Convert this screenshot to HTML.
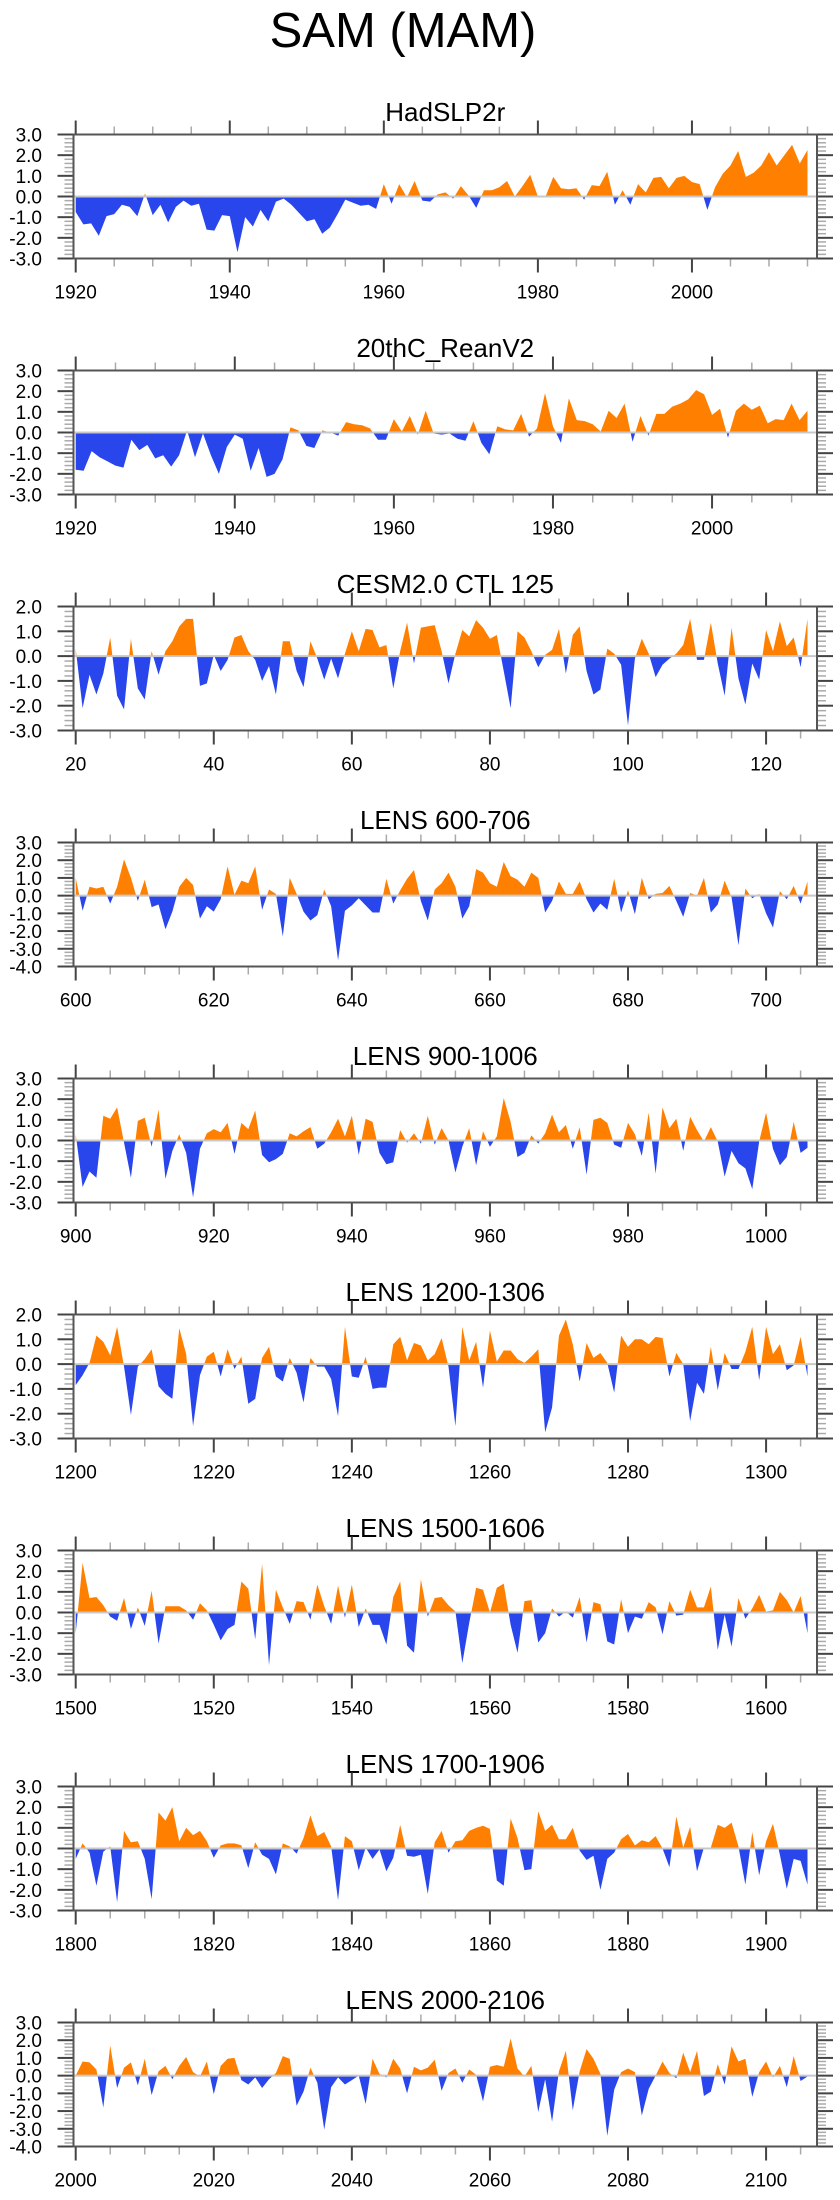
<!DOCTYPE html>
<html>
<head>
<meta charset="utf-8">
<style>
  html,body{margin:0;padding:0;background:#fff;}
  body{width:840px;height:2200px;overflow:hidden;}
  svg{display:block;font-family:"Liberation Sans",Arial,sans-serif;}
</style>
</head>
<body>
<svg id="chart" width="840" height="2200" viewBox="0 0 840 2200" xmlns="http://www.w3.org/2000/svg">
  <text x="403" y="47" font-size="49" text-anchor="middle" fill="#000">SAM (MAM)</text>
</svg>
<script>
// ---- data ----
const titles = ["HadSLP2r","20thC_ReanV2","CESM2.0 CTL 125","LENS 600-706","LENS 900-1006","LENS 1200-1306","LENS 1500-1606","LENS 1700-1906","LENS 2000-2106"];
const startYears = [1920,1920,20,600,900,1200,1500,1800,2000];
const yMins = [-3,-3,-3,-4,-3,-3,-3,-3,-4];
const yMaxs = [3,3,2,3,3,2,3,3,3];
const xLabelStarts = [1920,1920,20,600,900,1200,1500,1800,2000];

const hadslp = [-0.75,-1.35,-1.3,-1.9,-0.95,-0.85,-0.4,-0.5,-0.95,0.15,-0.9,-0.4,-1.25,-0.5,-0.2,-0.45,-0.35,-1.6,-1.65,-0.9,-0.95,-2.7,-1.0,-1.45,-0.65,-1.2,-0.25,-0.1,-0.4,-0.8,-1.2,-1.1,-1.8,-1.5,-0.85,-0.15,-0.3,-0.45,-0.4,-0.6,0.6,-0.35,0.6,-0.05,0.75,-0.2,-0.25,0.1,0.2,-0.1,0.5,0.05,-0.55,0.3,0.3,0.45,0.75,0.0,0.5,1.05,0.0,0.0,0.95,0.4,0.35,0.4,-0.15,0.55,0.5,1.2,-0.4,0.3,-0.4,0.6,0.2,0.9,0.95,0.4,0.9,1.0,0.7,0.6,-0.65,0.45,1.1,1.5,2.2,0.95,1.15,1.5,2.15,1.5,2.0,2.5,1.6,2.25];
const rean = [-1.8,-1.85,-0.9,-1.2,-1.4,-1.6,-1.7,-0.35,-0.85,-0.6,-1.25,-1.1,-1.65,-1.1,0.1,-1.2,-0.05,-1.1,-2.0,-0.7,-0.1,-0.3,-1.85,-0.75,-2.15,-2.0,-1.3,0.25,0.1,-0.65,-0.75,0.1,0.0,-0.15,0.5,0.4,0.35,0.2,-0.35,-0.35,0.65,0.05,0.8,-0.1,1.05,-0.05,-0.1,-0.05,-0.3,-0.4,0.55,-0.5,-1.05,0.3,0.15,0.1,0.9,-0.2,0.2,1.9,0.3,-0.5,1.65,0.6,0.55,0.4,0.05,1.05,0.7,1.4,-0.45,0.8,-0.15,0.9,0.9,1.25,1.4,1.6,2.05,1.85,0.85,1.15,-0.25,1.05,1.4,1.1,1.3,0.45,0.65,0.6,1.4,0.6,1.05];
const cesm = [0.3,-2.1,-0.75,-1.55,-0.7,0.75,-1.6,-2.15,0.7,-1.3,-1.75,0.2,-0.75,0.2,0.6,1.2,1.5,1.5,-1.2,-1.1,0.05,-0.6,-0.15,0.75,0.85,0.2,-0.15,-1.0,-0.4,-1.55,0.6,0.6,-0.6,-1.25,0.6,-0.1,-0.95,-0.1,-0.9,0.1,1.0,0.2,1.1,1.05,0.35,0.45,-1.3,0.2,1.35,-0.3,1.15,1.2,1.25,0.2,-1.1,0.1,1.05,0.8,1.45,1.15,0.7,0.85,-0.6,-2.1,1.0,0.75,0.2,-0.45,0.05,0.25,1.1,-0.7,0.85,1.2,-0.6,-1.55,-1.35,0.3,0.1,-0.35,-2.8,-0.1,0.7,0.1,-0.85,-0.35,-0.1,0.1,0.45,1.5,-0.15,-0.15,1.35,-0.3,-1.6,1.15,-0.9,-1.95,-0.3,-0.95,1.05,0.2,1.4,0.4,0.75,-0.45,1.5];
const lens600 = [1.0,-0.85,0.5,0.4,0.5,-0.45,0.5,2.05,1.0,-0.3,0.9,-0.65,-0.5,-1.9,-0.9,0.5,1.0,0.6,-1.3,-0.6,-0.9,-0.2,1.65,0.05,0.85,0.7,1.65,-0.8,0.35,0.1,-2.3,1.0,0.1,-0.9,-1.4,-1.1,0.35,-0.6,-3.65,-0.85,-0.55,-0.15,-0.55,-0.95,-0.95,0.95,-0.45,0.3,0.95,1.45,-0.3,-1.4,0.35,0.7,1.3,0.5,-1.3,-0.6,1.5,1.3,0.7,0.5,1.9,1.1,0.9,0.5,1.3,1.0,-0.95,-0.3,0.8,0.1,0.1,0.8,-0.2,-0.95,-0.45,-0.8,0.95,-0.95,0.3,-1.05,1.0,-0.2,0.1,0.15,0.55,-0.3,-1.2,0.15,0.0,1.0,-0.95,-0.5,0.85,-0.1,-2.8,0.4,-0.15,0.1,-1.0,-1.8,0.25,-0.2,0.55,-0.45,0.8];
const lens900 = [0.3,-2.25,-1.5,-1.8,1.2,1.05,1.6,-0.1,-1.8,0.95,1.1,-0.3,1.5,-1.85,-0.5,0.3,-0.6,-2.75,-0.4,0.35,0.55,0.4,0.85,-0.65,0.85,0.55,1.45,-0.7,-1.05,-0.9,-0.65,0.35,0.2,0.45,0.65,-0.4,-0.15,0.4,1.05,0.2,1.2,-0.7,1.05,0.9,-0.6,-1.15,-1.05,0.5,-0.1,0.35,-0.15,1.2,-0.2,0.6,0.0,-1.55,-0.3,0.6,-1.2,0.45,-0.3,0.2,2.05,0.9,-0.8,-0.6,0.25,-0.15,0.35,1.25,0.4,0.75,-0.4,0.65,-1.65,1.0,1.1,0.85,-0.2,-0.35,0.85,0.3,-0.75,1.35,-1.6,1.6,0.6,1.05,-0.5,1.15,0.5,-0.05,0.65,-0.05,-1.75,-0.5,-1.1,-1.35,-2.35,-0.05,1.35,-0.4,-1.2,-0.8,0.9,-0.6,-0.35];
const lens1200 = [-0.85,-0.45,0.05,1.15,0.9,0.35,1.5,-0.1,-2.05,-0.1,0.2,0.6,-0.9,-1.2,-1.4,1.45,0.4,-2.5,-0.45,0.3,0.5,-0.5,0.6,-0.2,0.3,-1.6,-1.4,0.25,0.7,-0.5,-0.7,0.25,-0.35,-1.55,0.25,-0.1,-0.1,-0.6,-2.1,1.5,-0.5,-0.55,0.3,-1.0,-0.95,-0.95,0.8,1.1,0.15,0.85,0.75,0.15,0.4,1.05,-0.1,-2.5,1.5,0.15,0.9,-0.95,1.35,0.1,0.55,0.55,0.2,0.05,0.3,0.6,-2.75,-1.75,1.15,1.8,0.8,-0.7,0.85,0.25,0.45,0.05,-1.15,1.15,0.7,1.0,1.0,0.8,1.1,1.05,-0.5,0.45,0.0,-2.3,-0.75,-1.2,0.7,-1.05,0.45,-0.2,-0.2,0.5,1.5,-0.65,1.5,0.4,0.8,-0.25,-0.05,1.1,-0.5];
const lens1500 = [-1.0,2.4,0.7,0.75,0.35,-0.2,-0.4,0.7,-0.8,0.25,-0.65,1.05,-1.5,0.3,0.3,0.3,0.1,-0.35,0.45,0.1,-0.6,-1.35,-0.8,-0.6,1.5,1.15,-1.3,2.35,-2.55,1.1,0.25,-0.55,0.55,0.5,-0.35,1.35,0.3,-0.55,1.3,-0.25,1.35,-0.7,0.2,-0.6,-0.6,-1.55,0.75,1.5,-1.6,-1.95,1.6,-0.2,0.7,0.75,0.35,0.05,-2.45,-0.5,1.2,1.1,0.0,1.2,1.4,-0.6,-1.95,0.55,0.6,-1.45,-1.0,0.2,-0.2,0.05,-0.25,0.75,-1.45,0.5,0.4,-1.4,-1.55,0.65,-1.0,-0.2,-0.3,0.5,0.25,-1.05,0.55,-0.15,-0.1,1.1,0.25,0.25,1.25,-1.8,-0.1,-1.65,0.7,-0.3,0.2,0.85,0.05,0.1,1.0,0.6,0.0,0.8,-1.0];
const lens1800 = [-0.5,0.25,-0.2,-1.8,-0.15,0.1,-2.6,0.85,0.3,0.35,-0.5,-2.45,1.75,1.35,2.0,0.35,1.0,0.65,0.85,0.35,-0.45,0.15,0.25,0.25,0.15,-0.95,0.3,-0.3,-0.5,-1.25,0.25,0.1,-0.25,0.5,1.6,0.6,0.8,0.1,-2.5,0.6,0.35,-1.05,0.05,-0.5,-0.05,-1.1,-0.45,1.15,-0.35,-0.4,-0.3,-2.2,0.3,0.85,-0.2,0.35,0.4,0.85,1.0,1.1,0.95,-1.55,-1.8,1.45,0.5,-1.05,-1.0,1.8,0.85,1.15,0.45,0.45,1.0,-0.1,-0.55,-0.35,-2.0,-0.5,-0.2,0.45,0.7,0.15,0.4,0.3,0.6,0.0,-0.9,1.55,0.05,1.05,-1.1,0.05,0.05,1.15,1.0,1.25,0.1,-1.75,0.8,-1.3,0.35,1.2,-0.3,-1.95,-0.5,-0.6,-1.75];
const lens2000 = [0.0,0.8,0.75,0.35,-1.8,1.7,-0.7,0.45,0.75,-0.55,0.95,-1.1,0.25,0.55,-0.2,0.55,1.05,0.2,-0.05,0.8,-1.05,0.55,0.95,1.0,-0.25,-0.5,-0.1,-0.7,-0.2,0.15,1.1,0.95,-1.7,-0.9,0.45,-0.4,-3.05,-0.65,-0.1,-0.5,-0.25,0.0,-1.6,0.95,0.1,-0.1,0.95,0.4,-1.0,0.5,0.3,0.45,0.9,-0.85,0.15,0.4,-0.4,0.35,0.05,-1.45,0.5,0.6,0.5,2.1,0.4,-0.05,0.55,-2.05,-0.2,-2.6,0.25,1.4,-1.95,0.25,1.5,0.95,0.1,-3.4,-0.8,0.2,0.4,0.2,-2.25,-0.75,0.0,0.8,0.15,-0.15,1.3,0.2,1.4,-1.15,-0.9,0.65,-0.5,1.65,0.8,0.95,-1.2,0.2,0.8,-0.1,0.55,-0.65,1.1,-0.3,-0.05];

const series = [hadslp, rean, cesm, lens600, lens900, lens1200, lens1500, lens1800, lens2000];

// ---- layout ----
const NS = "http://www.w3.org/2000/svg";
const svg = document.getElementById("chart");
const BOX_L = 73.5, BOX_R = 817, BOX_H = 124, TOP0 = 134.5, PITCH = 236;
const DATA_L = 75.7, DATA_R = 807.5;
const ORANGE = "#ff8000", BLUE = "#2846ec";

function mk(tag, attrs, parent){
  const e = document.createElementNS(NS, tag);
  for (const k in attrs) e.setAttribute(k, attrs[k]);
  (parent || svg).appendChild(e);
  return e;
}

series.forEach((vals, p) => {
  const top = TOP0 + PITCH * p, bot = top + BOX_H;
  const y0 = startYears[p], n = vals.length;
  const ymin = yMins[p], ymax = yMaxs[p];
  const xs = yr => DATA_L + (yr - y0) * (DATA_R - DATA_L) / (n - 1);
  const ys = v => bot - (v - ymin) * BOX_H / (ymax - ymin);
  const zeroY = ys(0);

  const g = mk("g", {});
  
  

  const t = mk("text", {x: (BOX_L + BOX_R) / 2, y: top - 13.5, "font-size": 26, "text-anchor": "middle", fill: "#000"}, g);
  
  
  t.textContent = titles[p];

  const defs = mk("defs", {}, g);
  const cpU = mk("clipPath", {id: "cu" + p}, defs);
  mk("rect", {x: BOX_L, y: top, width: BOX_R - BOX_L, height: zeroY - top}, cpU);
  const cpD = mk("clipPath", {id: "cd" + p}, defs);
  mk("rect", {x: BOX_L, y: zeroY, width: BOX_R - BOX_L, height: bot - zeroY}, cpD);

  let pts = xs(y0).toFixed(2) + "," + zeroY.toFixed(2) + " ";
  vals.forEach((v, i) => { pts += xs(y0 + i).toFixed(2) + "," + ys(v).toFixed(2) + " "; });
  pts += xs(y0 + n - 1).toFixed(2) + "," + zeroY.toFixed(2);

  const pos = mk("polygon", {points: pts, fill: ORANGE, "clip-path": "url(#cu" + p + ")"}, g);
  
  
  const neg = mk("polygon", {points: pts, fill: BLUE, "clip-path": "url(#cd" + p + ")"}, g);
  
  

  const zl = mk("line", {x1: BOX_L, x2: BOX_R, y1: zeroY, y2: zeroY, stroke: "#c8c8c8", "stroke-width": 2}, g);
  
  

  for (let v = ymin; v <= ymax + 1e-9; v += 0.2) {
    const yy = ys(v);
    const major = Math.abs(v - Math.round(v)) < 1e-6;
    const len = major ? 16 : 9;
    const col = major ? "#444" : "#aaa";
    mk("line", {x1: BOX_L - len, x2: BOX_L, y1: yy, y2: yy, stroke: col, "stroke-width": major ? 2 : 1.5}, g);
    mk("line", {x1: BOX_R, x2: BOX_R + len, y1: yy, y2: yy, stroke: col, "stroke-width": major ? 2 : 1.5}, g);
    if (major) {
      const lab = mk("text", {x: 42, y: yy + 7, "font-size": 19, "text-anchor": "end", fill: "#000"}, g);
      
      
      lab.textContent = Math.round(v).toFixed(1);
    }
  }
  const xl = xLabelStarts[p];
  for (let yr = xl; xs(yr) <= BOX_R; yr += 5) {
    const xx = xs(yr);
    const major = (yr - xl) % 20 === 0;
    const len = major ? 14 : 8;
    const col = major ? "#444" : "#aaa";
    mk("line", {x1: xx, x2: xx, y1: top - len, y2: top, stroke: col, "stroke-width": major ? 2 : 1.5}, g);
    mk("line", {x1: xx, x2: xx, y1: bot, y2: bot + len, stroke: col, "stroke-width": major ? 2 : 1.5}, g);
    if (major) {
      const lab = mk("text", {x: xx, y: bot + 40, "font-size": 19, "text-anchor": "middle", fill: "#000"}, g);
      
      
      lab.textContent = String(yr);
    }
  }
  const box = mk("rect", {x: BOX_L, y: top, width: BOX_R - BOX_L, height: BOX_H, fill: "none", stroke: "#555", "stroke-width": 2}, g);
  
  
});
</script>
</body>
</html>
